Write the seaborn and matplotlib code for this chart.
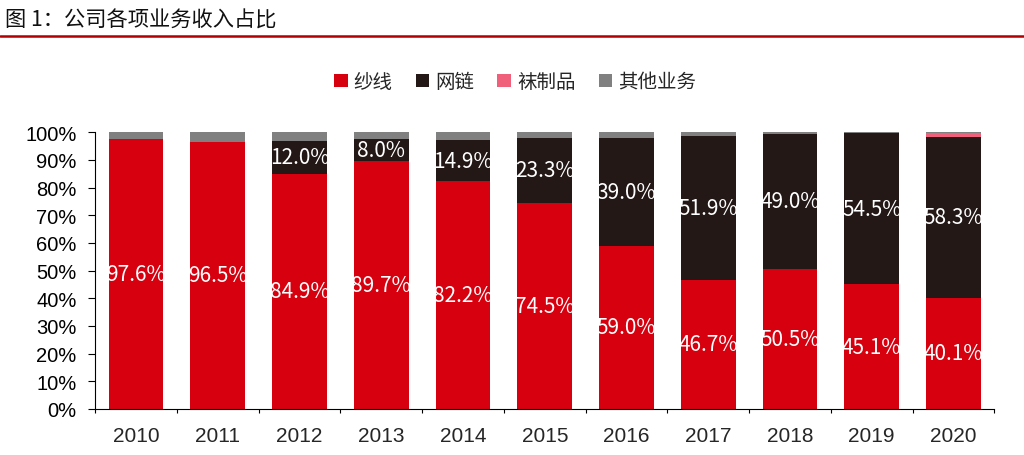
import numpy as np
import pandas as pd
import matplotlib
matplotlib.use("Agg")
import matplotlib.pyplot as plt
import seaborn as sns
from matplotlib.patches import Patch
from matplotlib.lines import Line2D

# 数据（单位：%）
years = ["2010", "2011", "2012", "2013", "2014", "2015", "2016", "2017", "2018", "2019", "2020"]
yarn = [97.6, 96.5, 84.9, 89.7, 82.2, 74.5, 59.0, 46.7, 50.5, 45.1, 40.1]
chain = [0.0, 0.0, 12.0, 8.0, 14.9, 23.3, 39.0, 51.9, 49.0, 54.5, 58.3]
socks = [0.0, 0.0, 0.0, 0.0, 0.0, 0.0, 0.0, 0.0, 0.0, 0.0, 1.4]
other = [2.4, 3.5, 3.1, 2.3, 2.9, 2.2, 2.0, 1.4, 0.5, 0.4, 0.2]

names = ["纱线", "网链", "袜制品", "其他业务"]
colors = ["#D7000F", "#231815", "#F0607A", "#808080"]

df = pd.DataFrame({"年份": years, "纱线": yarn, "网链": chain, "袜制品": socks, "其他业务": other})
cum = df[names].cumsum(axis=1)

sns.set_style("white")
plt.rcParams["font.family"] = ["Liberation Sans", "Noto Sans CJK SC", "DejaVu Sans"]
cjk = ["Noto Sans CJK SC", "DejaVu Sans"]

fig = plt.figure(figsize=(10.24, 4.56), dpi=100)
ax = fig.add_axes([0.093, 0.101, 0.878, 0.607])

# 堆叠柱：从最高的累计值开始往下画
for name, color in reversed(list(zip(names, colors))):
    sns.barplot(x=df["年份"], y=cum[name], color=color, width=0.67,
                saturation=1, ax=ax, edgecolor="none")

# 数据标签
for i in range(len(years)):
    ax.text(i, yarn[i] / 2, f"{yarn[i]:.1f}%", ha="center", va="center",
            color="white", fontsize=15, family=cjk)
    if chain[i] > 0:
        ax.text(i, yarn[i] + chain[i] / 2, f"{chain[i]:.1f}%", ha="center",
                va="center", color="white", fontsize=15, family=cjk)

ax.set_ylim(0, 100)
ax.set_xlim(-0.5, len(years) - 0.5)
ax.set_yticks(np.arange(0, 101, 10))
ax.set_yticklabels([f"{v}%" for v in range(0, 101, 10)])
ax.set_xticks(np.arange(-0.5, len(years)), minor=True)
ax.set_xlabel("")
ax.set_ylabel("")
ax.tick_params(axis="y", which="both", left=True, length=5, width=0.8,
               direction="out", labelsize=14.5, colors="black", pad=8.5)
ax.tick_params(axis="x", which="major", length=0, labelsize=15, pad=12.5)
ax.tick_params(axis="x", which="minor", bottom=True, length=3, width=0.8,
               direction="out", color="black")
for s in ["top", "right"]:
    ax.spines[s].set_visible(False)
ax.spines["left"].set_color("black")
ax.spines["bottom"].set_color("black")
ax.spines["left"].set_linewidth(0.8)
ax.spines["bottom"].set_linewidth(0.8)

handles = [Patch(facecolor=c, edgecolor="none") for c in colors]
fig.legend(handles, names, loc="center", bbox_to_anchor=(0.503, 0.818), ncol=4,
           frameon=False, prop={"family": cjk, "size": 14}, handlelength=0.7,
           handleheight=0.7, handletextpad=0.3, columnspacing=1.2)

# 标题与红线
fig.text(0.005, 0.955, "图 1：公司各项业务收入占比", fontsize=15.3, ha="left",
         va="center", color="#111111", family=cjk)
fig.add_artist(Line2D([0, 1], [0.918, 0.918], color="#B00000", linewidth=1.8,
                      transform=fig.transFigure))

fig.savefig("out.png", dpi=100)
